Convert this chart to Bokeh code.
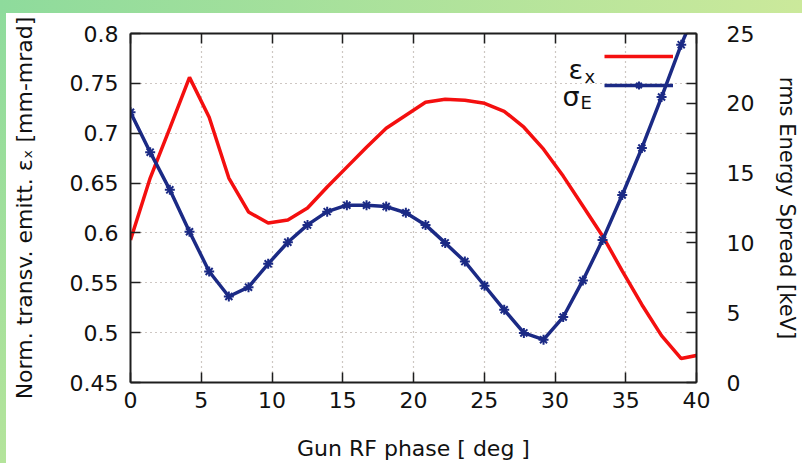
from bokeh.plotting import figure
from bokeh.models import (LinearAxis, Range1d, FixedTicker, Legend, LegendItem,
                          Label, CustomJSTickFormatter)
from bokeh.embed import file_html
from bokeh.resources import INLINE

# ---------------- data ----------------
phase = [0.0, 1.39, 2.78, 4.17, 5.56, 6.95, 8.34, 9.73, 11.12, 12.51,
         13.9, 15.29, 16.68, 18.07, 19.46, 20.85, 22.24, 23.63, 25.02, 26.41,
         27.8, 29.19, 30.58, 31.97, 33.36, 34.75, 36.14, 37.53, 38.92, 40.31]
emittance = [0.593, 0.655, 0.705, 0.756, 0.716, 0.655, 0.621, 0.610, 0.613, 0.625,
             0.646, 0.666, 0.686, 0.705, 0.718, 0.731, 0.734, 0.733, 0.730, 0.722,
             0.706, 0.684, 0.657, 0.627, 0.597, 0.562, 0.528, 0.497, 0.474, 0.478]
espread = [19.36, 16.5, 13.8, 10.8, 7.95, 6.16, 6.83, 8.5, 10.05, 11.29,
           12.24, 12.7, 12.7, 12.6, 12.16, 11.29, 10.0, 8.66, 6.93, 5.21,
           3.55, 3.07, 4.69, 7.31, 10.2, 13.43, 16.8, 20.45, 24.2, 27.5]

x_ticks = [0, 5, 10, 15, 20, 25, 30, 35, 40]
x_tick_labels = ["0", "5", "10", "15", "20", "25", "30", "35", "40"]
y_ticks = [0.45, 0.5, 0.55, 0.6, 0.65, 0.7, 0.75, 0.8]
y_tick_labels = ["0.45", "0.5", "0.55", "0.6", "0.65", "0.7", "0.75", "0.8"]
y2_ticks = [0, 5, 10, 15, 20, 25]
y2_tick_labels = ["0", "5", "10", "15", "20", "25"]

RED = "#f40f0f"
BLUE = "#1b2a85"
AXIS = "#1e1e1e"
FONT = "DejaVu Sans"

p = figure(width=802, height=463, output_backend="svg", toolbar_location=None,
           x_range=Range1d(0, 40), y_range=Range1d(0.45, 0.8),
           min_border_left=130, min_border_right=102, min_border_top=33,
           min_border_bottom=80, outline_line_color=None,
           x_axis_location=None, y_axis_location=None)
p.extra_y_ranges = {"y2": Range1d(0, 25)}

# slide-like green frame behind the canvas (top band + left strip)
p.border_fill_alpha = 0
p.styles = {"background":
            "linear-gradient(to right, #8edb9c, #cbe99b) left top / 100% 13px no-repeat, "
            "linear-gradient(to bottom, #8edb9c, #b4e49b) left top / 6px 100% no-repeat, "
            "#ffffff"}

def style_axis(ax):
    ax.axis_line_color = AXIS
    ax.axis_line_width = 2
    ax.major_tick_line_color = AXIS
    ax.major_tick_line_width = 1.5
    ax.major_tick_in = 10
    ax.major_tick_out = 0
    ax.minor_tick_line_color = None
    ax.major_label_text_font = FONT
    ax.major_label_text_font_size = "22px"
    ax.major_label_text_color = "#111111"
    ax.axis_label_text_font = FONT
    ax.axis_label_text_font_size = "22px"
    ax.axis_label_text_font_style = "normal"
    ax.axis_label_text_color = "#111111"

# bottom axis
xb = LinearAxis(ticker=FixedTicker(ticks=x_ticks),
                major_label_overrides=dict(zip(x_ticks, x_tick_labels)),
                axis_label="Gun RF phase [ deg ]")
style_axis(xb)
xb.major_label_standoff = 9
xb.axis_label_standoff = 25
p.add_layout(xb, "below")

# top (mirror) axis
xt = LinearAxis(ticker=FixedTicker(ticks=x_ticks),
                formatter=CustomJSTickFormatter(code="return ''"))
style_axis(xt)
xt.major_label_standoff = 0
p.add_layout(xt, "above")

# left axis
yl = LinearAxis(ticker=FixedTicker(ticks=y_ticks),
                major_label_overrides=dict(zip(y_ticks, y_tick_labels)),
                axis_label="Norm. transv. emitt. \u03b5\u2093 [mm-mrad]")
style_axis(yl)
yl.major_label_standoff = 12
yl.axis_label_standoff = 30
p.add_layout(yl, "left")

# right axis (with mirrored left ticks as minor ticks)
mirror = [(v - 0.45) / 0.35 * 25 for v in y_ticks[1:-1]]
yr = LinearAxis(y_range_name="y2",
                ticker=FixedTicker(ticks=y2_ticks, minor_ticks=mirror),
                major_label_overrides=dict(zip(y2_ticks, y2_tick_labels)),
                axis_label="rms Energy Spread [keV]")
style_axis(yr)
yr.minor_tick_line_color = AXIS
yr.minor_tick_line_width = 1.5
yr.minor_tick_in = 10
yr.minor_tick_out = 0
yr.major_label_standoff = 30
yr.axis_label_standoff = 18
yr.axis_label_text_font_size = "21px"
p.add_layout(yr, "right")

# grid
p.xgrid.ticker = FixedTicker(ticks=x_ticks)
p.ygrid.ticker = FixedTicker(ticks=y_ticks)
for g in (p.xgrid, p.ygrid):
    g.grid_line_color = "#9c8f86"
    g.grid_line_dash = "1 4"
    g.grid_line_width = 1.2

# series
red = p.line(phase, emittance, line_color=RED, line_width=3.5)
blue = p.line(phase, espread, y_range_name="y2", line_color=BLUE, line_width=3.5)
pts = p.scatter(phase, espread, y_range_name="y2", marker="asterisk",
                size=10, line_color=BLUE, line_width=2)

legend = Legend(items=[LegendItem(label=" ", renderers=[red]),
                       LegendItem(label=" ", renderers=[blue, pts])],
                location=(474, 287), orientation="vertical",
                glyph_width=69, glyph_height=20, label_height=20, label_width=1,
                spacing=9, padding=0, margin=0, label_standoff=0,
                border_line_color=None, background_fill_alpha=0,
                label_text_font_size="10px")
p.add_layout(legend)

def lab(txt, x, y, size):
    p.add_layout(Label(x=x, y=y, x_units="screen", y_units="screen", text=txt,
                       text_font=FONT, text_font_size=size, text_color="#111111",
                       text_baseline="alphabetic", text_align="left"))

lab("\u03b5", 438, 313, "27px")
lab("x", 454, 306, "18px")
lab("\u03c3", 432, 286, "27px")
lab("E", 450, 280, "18px")

open("out.html", "w").write(file_html(p, INLINE))
